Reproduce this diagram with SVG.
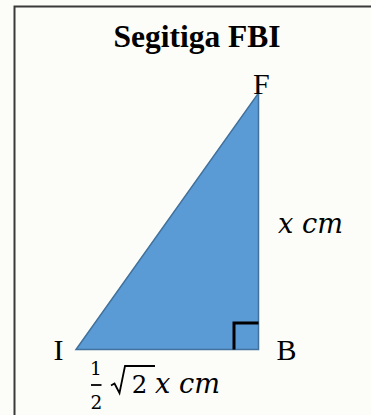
<svg xmlns="http://www.w3.org/2000/svg" width="371" height="415" viewBox="0 0 371 415">
  <style>
    .serif { font-family: "Liberation Serif", "Times New Roman", serif; fill: #000; }
    .vertex { font-size: 30px; }
    .num { font-family: "DejaVu Serif", serif; fill: #000; }
    .math { font-family: "DejaVu Serif", serif; font-style: italic; font-size: 27px; fill: #000; }
    .frame { stroke: #3a3a3a; stroke-width: 2; fill: none; }
  </style>
  <rect x="0" y="0" width="371" height="415" fill="#fcfdf8"/>
  <g id="frame">
    <path class="frame" d="M14.5 415 V6.5 H371"/>
  </g>
  <g id="title">
    <text class="serif" x="197" y="47" font-size="31.5" font-weight="bold" text-anchor="middle">Segitiga FBI</text>
  </g>
  <g id="triangle-FBI">
    <polygon points="258.5,93 258.5,349.5 76,349.5" fill="#5b9bd5" stroke="#41719c" stroke-width="1.5" stroke-linejoin="miter"/>
  </g>
  <g id="connectors">
    <path d="M234 349.5 V323 H258.5" fill="none" stroke="#000" stroke-width="3"/>
  </g>
  <g id="vertex-F">
    <text class="serif vertex" x="253" y="93.5">F</text>
  </g>
  <g id="vertex-I">
    <text class="serif vertex" x="53.5" y="359.5">I</text>
  </g>
  <g id="vertex-B">
    <text class="serif vertex" x="276.5" y="359.5">B</text>
  </g>
  <g id="label-FB">
    <text class="math" x="278" y="233" textLength="65" lengthAdjust="spacingAndGlyphs">x cm</text>
  </g>
  <g id="label-IB">
    <text class="num" x="96" y="375" font-size="18.5" text-anchor="middle">1</text>
    <line x1="91" y1="385" x2="101.5" y2="385" stroke="#000" stroke-width="1.8"/>
    <text class="num" x="96.5" y="408.5" font-size="18.5" text-anchor="middle">2</text>
    <path d="M111 385.5 L114.5 383.5 L119.5 393 L125 366 H155" fill="none" stroke="#000" stroke-width="1.8" stroke-linejoin="miter"/>
    <text class="num" x="139.5" y="392.7" font-size="24.5" text-anchor="middle">2</text>
    <text class="math" x="155" y="392.7" textLength="65" lengthAdjust="spacingAndGlyphs">x cm</text>
  </g>
</svg>
